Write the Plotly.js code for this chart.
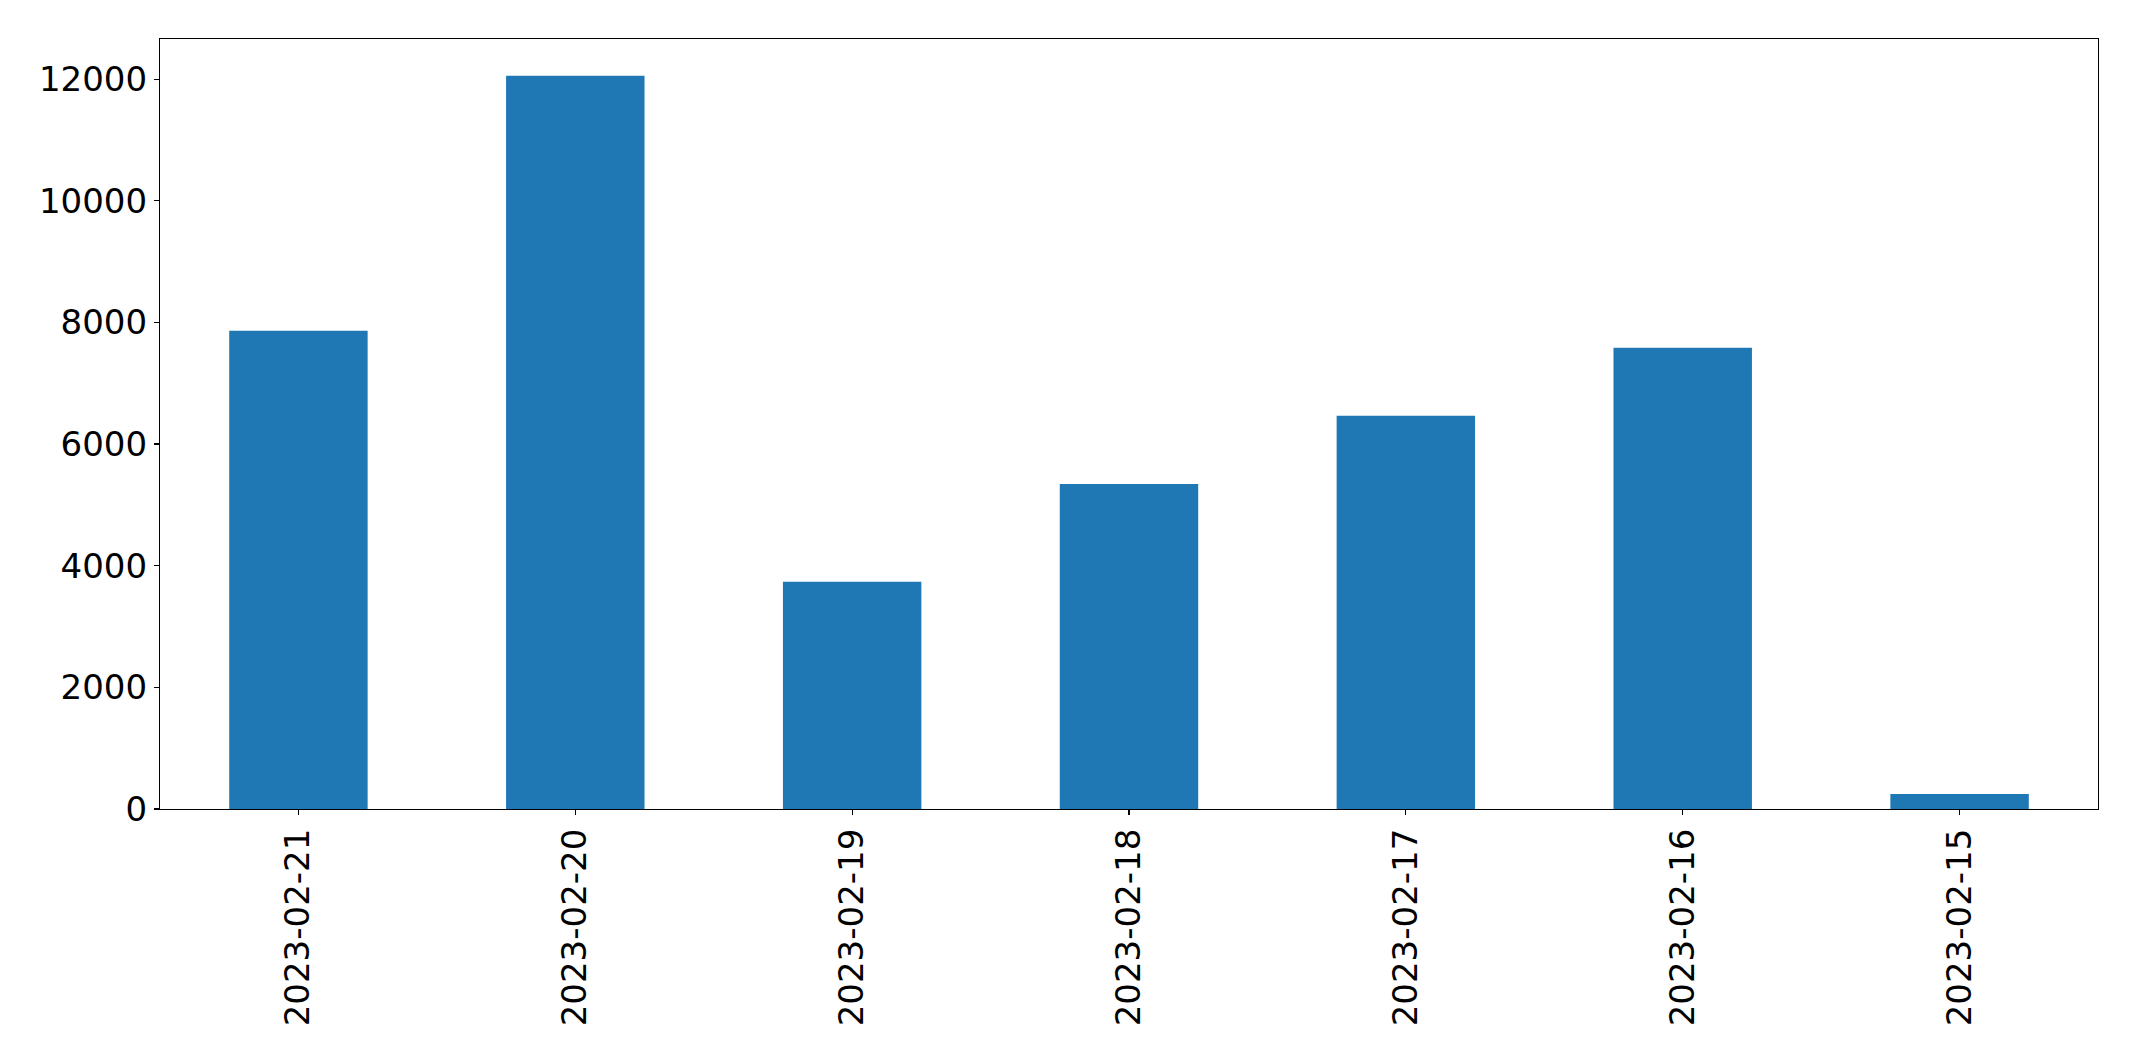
<!DOCTYPE html>
<html>
<head>
<meta charset="utf-8">
<script src="https://cdn.plot.ly/plotly-3.0.1.min.js"></script>
<style>html,body{margin:0;padding:0;background:#fff;}#chart{width:2137px;height:1061px;}</style>
</head>
<body>
<div id="chart"></div>
<script>
const dates = ["2023-02-21", "2023-02-20", "2023-02-19", "2023-02-18", "2023-02-17", "2023-02-16", "2023-02-15"];
const counts = [7862, 12056, 3734, 5345, 6464, 7582, 247];
const yTicks = [0, 2000, 4000, 6000, 8000, 10000, 12000];

const font = {family: "DejaVu Sans", size: 34, color: "#000"};

Plotly.newPlot("chart", [{
  type: "bar",
  x: dates,
  y: counts,
  marker: {color: "#1f77b4", line: {width: 0}},
  hoverinfo: "x+y"
}], {
  width: 2137,
  height: 1061,
  margin: {l: 160, r: 39, t: 39, b: 252, pad: 0},
  paper_bgcolor: "#fff",
  plot_bgcolor: "#fff",
  bargap: 0.5,
  showlegend: false,
  font: font,
  xaxis: {
    type: "category",
    tickangle: -90,
    ticks: "outside",
    ticklen: 5,
    tickwidth: 1.1,
    tickcolor: "#000",
    showline: true,
    linecolor: "#000",
    linewidth: 1.1,
    mirror: true,
    showgrid: false,
    zeroline: false,
    tickfont: font
  },
  yaxis: {
    range: [0, 12659],
    tickmode: "array",
    tickvals: yTicks,
    ticktext: yTicks.map(String),
    ticks: "outside",
    ticklen: 5,
    tickwidth: 1.1,
    tickcolor: "#000",
    showline: true,
    linecolor: "#000",
    linewidth: 1.1,
    mirror: true,
    showgrid: false,
    zeroline: false,
    tickfont: font
  }
}, {staticPlot: true, displayModeBar: false});
</script>
</body>
</html>
